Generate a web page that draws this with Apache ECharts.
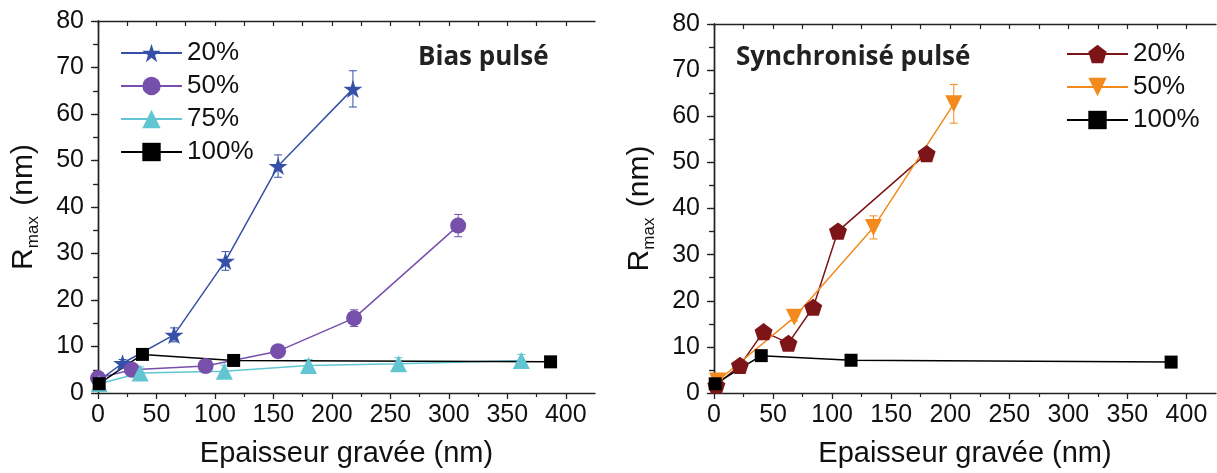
<!DOCTYPE html>
<html>
<head>
<meta charset="utf-8">
<script src="https://cdn.jsdelivr.net/npm/echarts@6/dist/echarts.min.js"></script>
<style>
html,body{margin:0;padding:0;background:#fff;}
#c{width:1217px;height:473px;}
</style>
</head>
<body>
<div id="c"></div>
<script>
// ---------- data : left panel "Bias pulsé" ----------
const xB20 = [1, 21, 65, 109, 154, 218];
const yB20 = [2.7, 6.4, 12.5, 28.4, 48.8, 65.4];
const eB20 = [0, 0.8, 1.5, 2.0, 2.4, 3.9];
const xB50 = [0, 29, 92, 154, 219, 308];
const yB50 = [3.2, 5.0, 5.8, 9.0, 16.1, 36.0];
const eB50 = [0, 0, 0.8, 0.8, 1.8, 2.4];
const xB75 = [1, 36, 108, 180, 257, 362];
const yB75 = [2.0, 4.3, 4.7, 5.9, 6.3, 7.0];
const eB75 = [0, 1.3, 1.3, 1.3, 1.3, 1.3];
const xB100 = [1, 38, 116, 387];
const yB100 = [2.0, 8.3, 7.0, 6.7];
// ---------- data : right panel "Synchronisé pulsé" ----------
const xS20 = [2, 22, 42, 63, 84, 105, 180];
const yS20 = [1.7, 6.0, 13.3, 10.8, 18.6, 35.1, 51.9];
const xS50 = [3, 68, 135, 203];
const yS50 = [2.6, 16.4, 35.9, 62.7];
const eS50 = [0, 0.8, 2.5, 4.2];
const xS100 = [1, 40, 116, 387];
const yS100 = [2.0, 8.1, 7.1, 6.7];
// ---------- labels / ticks ----------
const seriesLabels = ['20%', '50%', '75%', '100%'];
const rightLabels = ['20%', '50%', '100%'];
const xMajor = [0, 50, 100, 150, 200, 250, 300, 350, 400];
const xMinor = [25, 75, 125, 175, 225, 275, 325, 375];
const xAll = [0, 25, 50, 75, 100, 125, 150, 175, 200, 225, 250, 275, 300, 325, 350, 375, 400];
const titleLeft = 'Bias pulsé';
const titleRight = 'Synchronisé pulsé';
const xTitle = 'Epaisseur gravée (nm)';

const FONT = '"Liberation Sans", Arial, sans-serif';
const C = {b20:'#3550a6', b50:'#7650ab', b75:'#62c6d2', k:'#000000', s20:'#7d1518', s50:'#f28a1e'};
const STAR = 'path://M50 0 L61.23 34.55 L97.55 34.55 L68.17 55.9 L79.39 90.45 L50 69.1 L20.61 90.45 L31.83 55.9 L2.45 34.55 L38.77 34.55 Z';
const PENT = 'path://M50 0 L97.55 34.55 L79.39 90.45 L20.61 90.45 L2.45 34.55 Z';

function pts(xs, ys){ return xs.map((x,i)=>[x, ys[i]]); }
function errs(xs, ys, es){ const r=[]; xs.forEach((x,i)=>{ if(es[i]>0) r.push([x, ys[i]-es[i], ys[i]+es[i]]); }); return r; }
function errSeries(data, color, xi, yi){
  return {type:'custom', xAxisIndex:xi, yAxisIndex:yi, z:1, silent:true, data:data,
    renderItem:function(params, api){
      const x=api.value(0), lo=api.value(1), hi=api.value(2);
      const p1=api.coord([x,hi]), p2=api.coord([x,lo]); const w=4;
      const st={stroke:color, lineWidth:1};
      return {type:'group', children:[
        {type:'line', shape:{x1:p1[0],y1:p1[1],x2:p2[0],y2:p2[1]}, style:st},
        {type:'line', shape:{x1:p1[0]-w,y1:p1[1],x2:p1[0]+w,y2:p1[1]}, style:st},
        {type:'line', shape:{x1:p2[0]-w,y1:p2[1],x2:p2[0]+w,y2:p2[1]}, style:st}
      ]};
    }};
}
function lineSeries(name, data, color, symbol, size, xi, yi, extra){
  return Object.assign({type:'line', name:name, data:data, xAxisIndex:xi, yAxisIndex:yi, z:3,
    symbol:symbol, symbolSize:size, symbolKeepAspect:true, showAllSymbols:true,
    lineStyle:{color:color, width:1.5}, itemStyle:{color:color, opacity:1},
    emphasis:{disabled:true}, animation:false}, extra||{});
}

const axisLineStyle = {show:true, lineStyle:{color:'#222', width:1.4}};
function bottomMain(gi){ return {type:'value', gridIndex:gi, position:'bottom', min:0, max:425,
  axisLine:axisLineStyle, splitLine:{show:false},
  axisTick:{show:true, length:6, customValues:xMajor, lineStyle:{color:'#222', width:1.3}},
  axisLabel:{customValues:xMajor, fontSize:25, fontFamily:FONT, color:'#111', margin:10},
  name:xTitle, nameLocation:'middle', nameGap:46, nameTextStyle:{fontSize:29, fontFamily:FONT, color:'#111'}}; }
function bottomMinor(gi){ return {type:'value', gridIndex:gi, position:'bottom', min:0, max:425,
  axisLine:{show:false}, splitLine:{show:false}, axisLabel:{show:false},
  axisTick:{show:true, length:4, customValues:xMinor, lineStyle:{color:'#222', width:1.2}}}; }
function topAxis(gi){ return {type:'value', gridIndex:gi, position:'top', min:0, max:425,
  axisLine:axisLineStyle, splitLine:{show:false}, axisLabel:{show:false},
  axisTick:{show:true, inside:true, length:5, customValues:xAll, lineStyle:{color:'#222', width:1.2}}}; }
function leftAxis(gi){ return {type:'value', gridIndex:gi, position:'left', min:0, max:80, interval:10,
  axisLine:axisLineStyle, splitLine:{show:false},
  axisTick:{show:true, length:7, lineStyle:{color:'#222', width:1.3}},
  minorTick:{show:true, splitNumber:2, length:4, lineStyle:{color:'#222', width:1.2}},
  minorSplitLine:{show:false},
  axisLabel:{fontSize:25, fontFamily:FONT, color:'#111', margin:14},
  name:'{r|R}{s|max}{r| (nm)}', nameLocation:'middle', nameGap:56, nameRotate:90,
  nameTextStyle:{fontFamily:FONT, color:'#111', rich:{
    r:{fontSize:30, fontFamily:FONT, color:'#111'},
    s:{fontSize:17, fontFamily:FONT, color:'#111', padding:[20,2,0,0]}}}}; }
function rightAxis(gi){ return {type:'value', gridIndex:gi, position:'right', min:0, max:80, interval:5,
  axisLine:axisLineStyle, splitLine:{show:false}, axisLabel:{show:false},
  axisTick:{show:true, inside:true, length:5, lineStyle:{color:'#222', width:1.2}}}; }

const legendText = {fontSize:26, fontFamily:FONT, color:'#111', lineHeight:26};
const option = {
  backgroundColor:'#ffffff',
  animation:false,
  grid:[
    {left:98, top:21, width:497, height:373},
    {left:714, top:24, width:502, height:370}
  ],
  xAxis:[bottomMain(0), bottomMinor(0), topAxis(0), bottomMain(1), bottomMinor(1), topAxis(1)],
  yAxis:[leftAxis(0), rightAxis(0), leftAxis(1), rightAxis(1)],
  legend:[
    {left:115, top:35, orient:'vertical', itemWidth:61, itemHeight:23, itemGap:7, selectedMode:false,
     data:seriesLabels.map(s=>'a'+s), formatter:n=>n.slice(1), textStyle:legendText},
    {left:1061, top:36, orient:'vertical', itemWidth:61, itemHeight:23, itemGap:7, selectedMode:false,
     data:rightLabels.map(s=>'b'+s), formatter:n=>n.slice(1), textStyle:legendText}
  ],
  graphic:[
    {type:'text', x:418, y:58, z:50, style:{text:titleLeft, fontSize:26, fontWeight:'bold', fontFamily:'"Open Sans", sans-serif', fill:'#222', verticalAlign:'middle'}},
    {type:'text', x:736, y:58, z:50, style:{text:titleRight, fontSize:26, fontWeight:'bold', fontFamily:'"Open Sans", sans-serif', fill:'#222', verticalAlign:'middle'}}
  ],
  series:[
    errSeries(errs(xB20,yB20,eB20), C.b20, 0, 0),
    errSeries(errs(xB50,yB50,eB50), C.b50, 0, 0),
    errSeries(errs(xB75,yB75,eB75), C.b75, 0, 0),
    lineSeries('a20%', pts(xB20,yB20), C.b20, STAR, 19, 0, 0),
    lineSeries('a50%', pts(xB50,yB50), C.b50, 'circle', 16, 0, 0),
    lineSeries('a75%', pts(xB75,yB75), C.b75, 'triangle', 17, 0, 0),
    lineSeries('a100%', pts(xB100,yB100), C.k, 'rect', 13, 0, 0),
    errSeries(errs(xS50,yS50,eS50), C.s50, 3, 2),
    lineSeries('b20%', pts(xS20,yS20), C.s20, PENT, 18, 3, 2),
    lineSeries('b50%', pts(xS50,yS50), C.s50, 'triangle', 17, 3, 2, {symbolRotate:180}),
    lineSeries('b100%', pts(xS100,yS100), C.k, 'rect', 13, 3, 2)
  ]
};
const chart = echarts.init(document.getElementById('c'), null, {renderer:'canvas'});
chart.setOption(option);
</script>
</body>
</html>
